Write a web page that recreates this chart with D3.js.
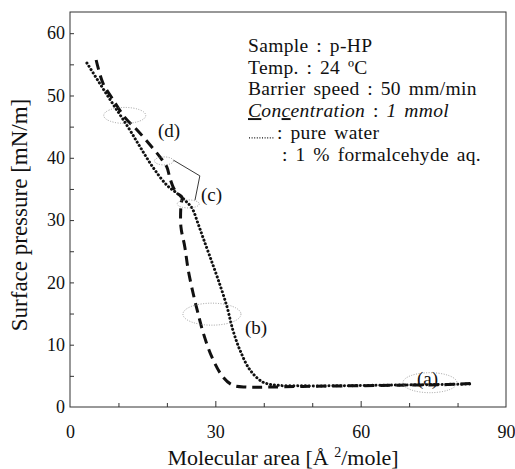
<!DOCTYPE html>
<html><head><meta charset="utf-8">
<script src="https://cdn.jsdelivr.net/npm/d3@7"></script>
<style>
html,body{margin:0;padding:0;background:#fff;}
svg{display:block;}
text{font-family:"Liberation Serif","Times New Roman",serif;fill:#111;}
</style></head>
<body>
<svg id="c" width="515" height="469"></svg>
<script>
// Data: molecular area (Å²/mole) vs surface pressure (mN/m)
const pureWaterArea     = [3.5, 8.3, 12.0, 14.5, 17.1, 20.0, 22.1, 23.7, 25.2, 26.4, 27.5, 28.9, 30.6, 32.4, 33.6, 35.1, 37.2, 39.8, 42.7, 47.5, 55, 65, 75, 83.2];
const pureWaterPressure = [55.2, 49.3, 44.9, 41.7, 38.5, 35.6, 34.3, 33.2, 31.9, 29.5, 27.1, 24.1, 20.4, 16.1, 12.4, 9.1, 5.9, 4.0, 3.5, 3.4, 3.4, 3.5, 3.6, 3.7];
const formalArea        = [5.4, 6.8, 8.9, 11.4, 13.8, 16.5, 18.6, 20.0, 20.6, 21.3, 22.1, 23.1, 22.9, 22.9, 23.7, 24.4, 25.4, 26.4, 27.5, 29.3, 31.6, 33.6, 36.5, 40.7, 48, 58, 68, 78, 83.0];
const formalPressure    = [55.7, 52.0, 49.3, 46.4, 44.5, 42.1, 40.1, 38.5, 36.8, 35.3, 34.3, 33.7, 32.4, 28.9, 25.7, 22.0, 18.3, 15.1, 11.9, 8.0, 4.8, 3.5, 3.2, 3.2, 3.3, 3.4, 3.5, 3.6, 3.8];
const xTickLabels = [0, 30, 60, 90];
const yTickLabels = [0, 10, 20, 30, 40, 50, 60];
const infoLines = ["Sample : p-HP", "Temp. : 24 ºC", "Barrier speed : 50 mm/min", "Concentration : ", ": pure water", ": 1 % formalcehyde aq."];
// annotation ellipses: [area, pressure] centres, labels
const ellipseCentres = [[11.3, 46.8], [19.4, 39.5], [24.4, 32.6], [29.3, 14.9], [74.3, 3.9]];
const labelTexts = ["(a)", "(b)", "(c)", "(d)"];

const svg = d3.select("#c");
const x = d3.scaleLinear().domain([0, 90]).range([70, 506]);
const y = d3.scaleLinear().domain([0, 63.4]).range([407, 12]);

// frame
svg.append("rect").attr("x", 70).attr("y", 12).attr("width", 436).attr("height", 395)
  .attr("fill", "none").attr("stroke", "#333").attr("stroke-width", 1);

// x axis ticks (inward)
const xAxis = d3.axisTop(x).tickValues(d3.range(10, 90, 10)).tickSize(4).tickFormat("");
const gx = svg.append("g").attr("transform", "translate(0,407)").call(xAxis);
gx.select(".domain").remove();
gx.selectAll(".tick line").attr("stroke", "#333").attr("y2", d => (d % 30 === 0 ? -6 : -4));
// x labels
const gxl = svg.append("g").attr("transform", "translate(0,407)")
  .call(d3.axisBottom(x).tickValues(xTickLabels).tickSize(0).tickPadding(18).tickFormat(d3.format("d")));
gxl.select(".domain").remove();
gxl.selectAll("text").style("font-size", "18px").style("font-family", "Liberation Serif");

// y axis ticks (inward)
const yAxis = d3.axisRight(y).tickValues(d3.range(5, 63, 5)).tickSize(4).tickFormat("");
const gy = svg.append("g").attr("transform", "translate(70,0)").call(yAxis);
gy.select(".domain").remove();
gy.selectAll(".tick line").attr("stroke", "#333");
const gyl = svg.append("g").attr("transform", "translate(70,0)")
  .call(d3.axisLeft(y).tickValues(yTickLabels).tickSize(0).tickPadding(5).tickFormat(d3.format("d")));
gyl.select(".domain").remove();
gyl.selectAll("text").style("font-size", "18px").style("font-family", "Liberation Serif");

// axis titles
svg.append("text").attr("transform", "translate(27,215) rotate(-90)").attr("text-anchor", "middle")
  .style("font-size", "23px").text("Surface pressure [mN/m]");
const xt = svg.append("text").attr("x", 283).attr("y", 465).attr("text-anchor", "middle").style("font-size", "22px");
xt.append("tspan").text("Molecular area [Å ");
xt.append("tspan").attr("dy", -8).style("font-size", "14px").text("2");
xt.append("tspan").attr("dy", 8).text("/mole]");

// curves
const line = d3.line().x(d => x(d[0])).y(d => y(d[1])).curve(d3.curveCatmullRom.alpha(0.5));
const pw = pureWaterArea.map((a, i) => [a, pureWaterPressure[i]]);
const fm = formalArea.map((a, i) => [a, formalPressure[i]]);
svg.append("path").datum(pw).attr("d", line).attr("fill", "none").attr("stroke", "#111")
  .attr("stroke-width", 3).attr("stroke-linecap", "round").attr("stroke-dasharray", "0.1,3.8");
svg.append("path").datum(fm).attr("d", line).attr("fill", "none").attr("stroke", "#111")
  .attr("stroke-width", 3).attr("stroke-dasharray", "10,6");

// annotation ellipses
const ellSizes = [[21, 8], [9.5, 4], [11, 4], [29, 11], [27, 10]];
svg.selectAll(".ell").data(ellipseCentres).join("ellipse")
  .attr("cx", d => x(d[0])).attr("cy", d => y(d[1]))
  .attr("rx", (d, i) => ellSizes[i][0]).attr("ry", (d, i) => ellSizes[i][1])
  .attr("fill", "none").attr("stroke", "#888").attr("stroke-width", 0.8).attr("stroke-dasharray", "1,1.5");
// connector for (c)
svg.append("path").attr("d", `M${x(21.4)},${y(39.6)} L${x(26.8)},${y(37.1)} L${x(25.8)},${y(33.2)}`)
  .attr("fill", "none").attr("stroke", "#222").attr("stroke-width", 0.9);
// labels
const labelPos = [[417, 385], [245, 334], [201, 201], [158, 137]];
labelTexts.forEach((t, i) => {
  svg.append("text").attr("x", labelPos[i][0]).attr("y", labelPos[i][1]).style("font-size", "19px").text(t);
});

// info text
const fs = "19.5px", ws = "2.5px", ls = "0.35px";
const tx = 248, base = [52, 73.7, 95.4, 117.1, 138.8, 160.5];
function info(xx, yy) {
  return svg.append("text").attr("x", xx).attr("y", yy).style("font-size", fs)
    .style("word-spacing", ws).style("letter-spacing", ls);
}
info(tx, base[0]).text(infoLines[0]);
info(tx, base[1]).text(infoLines[1]);
info(tx, base[2]).text(infoLines[2]);
const t3 = info(tx, base[3]);
t3.append("tspan").attr("text-decoration", "underline").style("font-style", "italic").text("C");
t3.append("tspan").style("font-style", "italic").text("on");
t3.append("tspan").attr("text-decoration", "underline").style("font-style", "italic").text("c");
t3.append("tspan").style("font-style", "italic").text("entration");
t3.append("tspan").text(" : ");
t3.append("tspan").style("font-style", "italic").text("1 mmol");
svg.append("line").attr("x1", 249).attr("x2", 274).attr("y1", base[4] - 1).attr("y2", base[4] - 1)
  .attr("stroke", "#111").attr("stroke-width", 1.3).attr("stroke-dasharray", "1,1.6");
info(277, base[4]).text(infoLines[4]);
info(282, base[5]).text(infoLines[5]);
</script>
</body></html>
